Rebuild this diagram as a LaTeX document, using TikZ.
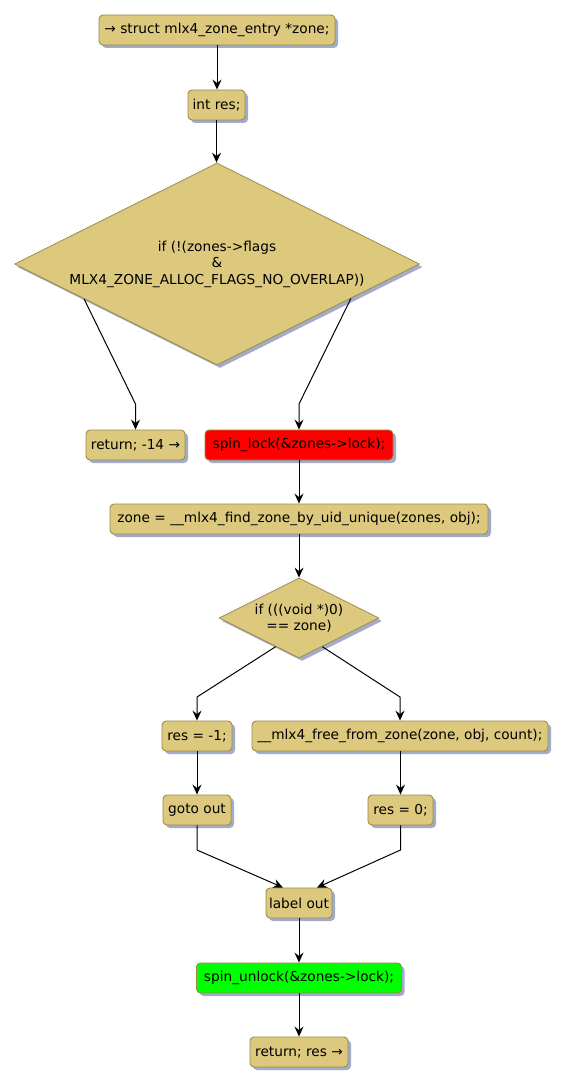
\documentclass[tikz,border=0pt]{standalone}
\usepackage{fontspec}
\setmainfont{DejaVu Sans}
\usetikzlibrary{shapes.geometric,arrows.meta,shadows,calc}
\definecolor{boxfill}{RGB}{221,201,126}
\definecolor{boxdraw}{RGB}{158,138,72}
\definecolor{shadowc}{RGB}{150,164,196}
\definecolor{redfill}{RGB}{255,0,0}
\definecolor{greenfill}{RGB}{0,255,0}
\begin{document}
\begin{tikzpicture}[x=1pt,y=-1pt,
  every node/.style={font=\fontsize{13.7}{16.5}\selectfont},
  stepbox/.style={rectangle, rounded corners=4pt, draw=boxdraw, line width=0.9pt, fill=boxfill,
     minimum height=30pt, inner xsep=3pt, inner ysep=0pt,
     drop shadow={shadow xshift=3pt, shadow yshift=-3pt, fill=shadowc, opacity=0.9}},
  decision/.style={diamond, draw=boxdraw, line width=0.8pt, fill=boxfill, inner sep=0pt,
     drop shadow={shadow xshift=3pt, shadow yshift=-3pt, fill=shadowc, opacity=0.9}},
  arr/.style={draw=black, line width=1pt, -{Stealth[length=10pt,width=9pt,inset=3.5pt]}},
  seg/.style={draw=black, line width=0.8pt}
]
\useasboundingbox (0,0) rectangle (567,1086);
\fill[white] (0,0) rectangle (567,1086);

\node[stepbox, minimum width=236pt] (n1) at (217,30) {→ struct mlx4\_zone\_entry *zone;};
\node[stepbox, minimum width=57pt] (n2) at (216.5,105) {int res;};
\node[decision, minimum width=405pt, minimum height=202pt] (d1) at (217,264) {};
\node[align=center, inner sep=0pt] (d1t) at (217,264) {if (!(zones->flags\\\&\\MLX4\_ZONE\_ALLOC\_FLAGS\_NO\_OVERLAP))};
\node[stepbox, minimum width=99pt] (r14) at (135.5,445) {return; -14 →};
\node[stepbox, fill=redfill, minimum width=188pt] (spin) at (299,445) {spin\_lock(\&zones->lock);};
\node[stepbox, minimum width=378pt] (zone) at (299,519) {zone = \_\_mlx4\_find\_zone\_by\_uid\_unique(zones, obj);};
\node[decision, minimum width=160pt, minimum height=80pt] (d2) at (299,618) {};
\node[align=center, inner sep=0pt] (d2t) at (299,618) {if (((void *)0)\\== zone)};
\node[stepbox, minimum width=70pt] (res1) at (197,736) {res = -1;};
\node[stepbox, minimum width=296pt] (free) at (400,736) {\_\_mlx4\_free\_from\_zone(zone, obj, count);};
\node[stepbox, minimum width=68pt] (goto) at (197,810) {goto out};
\node[stepbox, minimum width=65pt] (res0) at (400.5,810) {res = 0;};
\node[stepbox, minimum width=66pt] (lab) at (299,903) {label out};
\node[stepbox, fill=greenfill, minimum width=205pt] (unl) at (299,978) {spin\_unlock(\&zones->lock);};
\node[stepbox, minimum width=98pt] (ret) at (299,1052) {return; res →};

\coordinate (b1) at (135.5,404);
\coordinate (b2) at (299,404);
\coordinate (b3) at (197,697);
\coordinate (b4) at (400,697);
\coordinate (b5) at (197,850);
\coordinate (b6) at (400.5,850);

\draw[arr] (n1.south) -- (n1.south |- n2.north);
\draw[arr] (n2.south) -- (n2.south |- d1.north);
\draw[arr] ($(d1.west)!0.345!(d1.south)$) -- (b1) -- (r14.north);
\draw[arr] ($(d1.east)!0.34!(d1.south)$) -- (b2) -- (spin.north);
\draw[arr] (spin.south) -- (zone.north);
\draw[arr] (zone.south) -- (d2.north);
\draw[arr] ($(d2.west)!0.71!(d2.south)$) -- (b3) -- (res1.north);
\draw[arr] ($(d2.east)!0.71!(d2.south)$) -- (b4) -- (free.north);
\draw[arr] (res1.south) -- (goto.north);
\draw[arr] (free.south -| res0.north) -- (res0.north);
\draw[arr] (goto.south) -- (b5) -- ($(lab.north)+(-16,0)$);
\draw[arr] (res0.south) -- (b6) -- ($(lab.north)+(18,0)$);
\draw[arr] (lab.south) -- (unl.north);
\draw[arr] (unl.south) -- (ret.north);
\end{tikzpicture}
\end{document}
